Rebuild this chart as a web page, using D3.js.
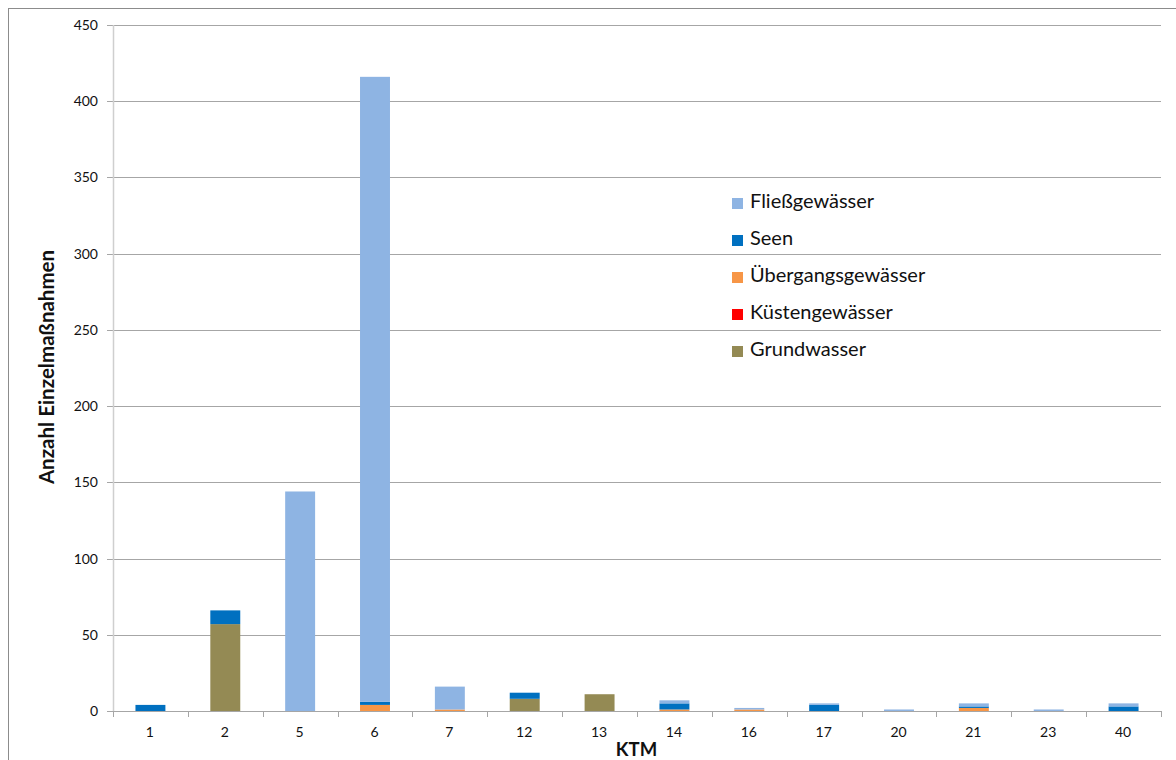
<!DOCTYPE html>
<html>
<head>
<meta charset="utf-8">
<script src="https://cdn.jsdelivr.net/npm/d3@7/dist/d3.min.js"></script>
<style>
  html, body { margin: 0; padding: 0; background: #fff; }
  svg { display: block; }
  text { font-family: Lato, "Open Sans", sans-serif; fill: #111; }
</style>
</head>
<body>
<svg id="chart" width="1176" height="760"></svg>
<script>
// KTM categories along the x axis
const categories = ["1", "2", "5", "6", "7", "12", "13", "14", "16", "17", "20", "21", "23", "40"];

// Number of individual measures per KTM and water body type
const fliessgewaesser   = [0, 0, 144, 410, 15, 0, 0, 2, 1, 1, 1, 2, 1, 2];
const seen              = [4, 9, 0, 2, 0, 4, 0, 4, 0, 4, 0, 1, 0, 3];
const uebergangsgewaesser = [0, 0, 0, 4, 1, 0, 0, 1, 1, 0, 0, 2, 0, 0];
const kuestengewaesser  = [0, 0, 0, 0, 0, 0, 0, 0, 0, 0, 0, 0, 0, 0];
const grundwasser       = [0, 57, 0, 0, 0, 8, 11, 0, 0, 0, 0, 0, 0, 0];

const yTicks = [0, 50, 100, 150, 200, 250, 300, 350, 400, 450];

// Series in stacking order (bottom to top)
const series = [
  { key: "Grundwasser",       values: grundwasser,         color: "#948A54" },
  { key: "Küstengewässer",    values: kuestengewaesser,    color: "#FF0000" },
  { key: "Übergangsgewässer", values: uebergangsgewaesser, color: "#F79646" },
  { key: "Seen",              values: seen,                color: "#0070C0" },
  { key: "Fließgewässer",     values: fliessgewaesser,     color: "#8EB4E3" }
];

const rows = categories.map((c, i) => {
  const r = { ktm: c };
  series.forEach(s => { r[s.key] = s.values[i]; });
  return r;
});

const svg = d3.select("#chart");

// outer chart frame
svg.append("rect")
  .attr("x", 8.5).attr("y", 8.5)
  .attr("width", 1190).attr("height", 800)
  .attr("fill", "none").attr("stroke", "#8c8c8c").attr("stroke-width", 1);

const plot = { left: 113, right: 1161, top: 25, bottom: 711 };

const x = d3.scaleBand()
  .domain(categories)
  .range([plot.left, plot.right])
  .paddingInner(0.6)
  .paddingOuter(0.3);

const y = d3.scaleLinear()
  .domain([0, 450])
  .range([plot.bottom, plot.top]);

// horizontal gridlines with short ticks left of the axis
svg.append("g")
  .selectAll("line")
  .data(yTicks.filter(d => d > 0))
  .join("line")
  .attr("x1", plot.left - 6).attr("x2", plot.right)
  .attr("y1", d => Math.round(y(d)) + 0.5).attr("y2", d => Math.round(y(d)) + 0.5)
  .attr("stroke", "#a6a6a6").attr("stroke-width", 1);

// y axis line
svg.append("line")
  .attr("x1", plot.left + 0.5).attr("x2", plot.left + 0.5)
  .attr("y1", plot.top).attr("y2", plot.bottom)
  .attr("stroke", "#cfcfcf").attr("stroke-width", 1.5);

// y tick labels
svg.append("g")
  .selectAll("text")
  .data(yTicks)
  .join("text")
  .attr("x", 98)
  .attr("y", d => y(d) + 5)
  .attr("text-anchor", "end")
  .attr("font-size", 14)
  .text(d => d);

// stacked bars
const stack = d3.stack().keys(series.map(s => s.key));
const stacked = stack(rows);

svg.append("g")
  .selectAll("g")
  .data(stacked)
  .join("g")
  .attr("fill", (d, i) => series[i].color)
  .selectAll("rect")
  .data(d => d.filter(p => p[1] - p[0] > 0))
  .join("rect")
  .attr("x", d => x(d.data.ktm))
  .attr("width", x.bandwidth())
  .attr("y", d => y(d[1]))
  .attr("height", d => y(d[0]) - y(d[1]));

// x axis line with ticks between categories
const step = x.step();
const xAxis = svg.append("g");
xAxis.append("line")
  .attr("x1", plot.left - 6).attr("x2", plot.right)
  .attr("y1", plot.bottom + 0.5).attr("y2", plot.bottom + 0.5)
  .attr("stroke", "#a6a6a6").attr("stroke-width", 1);
xAxis.selectAll("line.tick")
  .data(d3.range(categories.length + 1))
  .join("line")
  .attr("class", "tick")
  .attr("x1", i => Math.round(plot.left + i * step) + 0.5)
  .attr("x2", i => Math.round(plot.left + i * step) + 0.5)
  .attr("y1", plot.bottom).attr("y2", plot.bottom + 6)
  .attr("stroke", "#a6a6a6").attr("stroke-width", 1);
xAxis.selectAll("text")
  .data(categories)
  .join("text")
  .attr("x", d => x(d) + x.bandwidth() / 2 - 0.5)
  .attr("y", 737)
  .attr("text-anchor", "middle")
  .attr("font-size", 14)
  .text(d => d);

// axis titles
svg.append("text")
  .attr("x", 636.5)
  .attr("y", 756)
  .attr("text-anchor", "middle")
  .attr("font-size", 18.5)
  .attr("font-weight", "bold")
  .text("KTM");

svg.append("text")
  .attr("transform", "translate(54,367) rotate(-90)")
  .attr("text-anchor", "middle")
  .attr("font-size", 20.5)
  .attr("font-weight", "bold")
  .text("Anzahl Einzelmaßnahmen");

// legend (listed top-down in reverse stacking order)
const legendItems = series.slice().reverse();
const legend = svg.append("g").attr("transform", "translate(732,198)");
const lg = legend.selectAll("g")
  .data(legendItems)
  .join("g")
  .attr("transform", (d, i) => `translate(0,${i * 37})`);
lg.append("rect")
  .attr("width", 11).attr("height", 11)
  .attr("fill", d => d.color);
lg.append("text")
  .attr("x", 18).attr("y", 9.5)
  .attr("font-size", 20)
  .text(d => d.key);
</script>
</body>
</html>
